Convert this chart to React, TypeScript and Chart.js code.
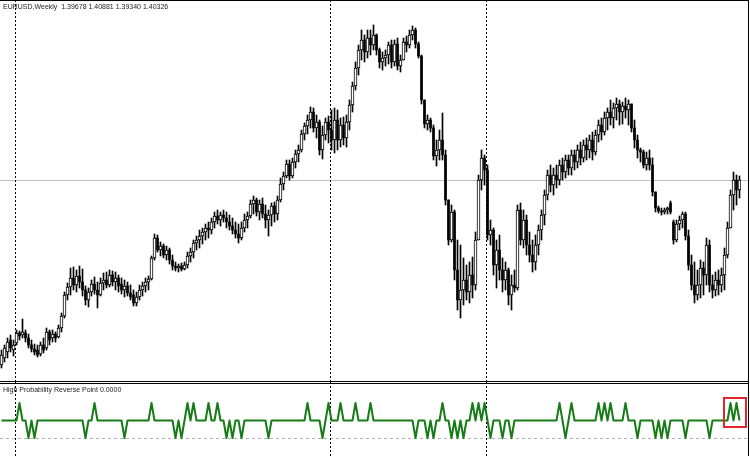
import { useEffect, useRef } from 'react';
import { Chart, registerables } from 'chart.js';

Chart.register(...registerables);

const symbolTitle = 'EURUSD,Weekly';
const lastQuote = ['1.39678', '1.40881', '1.39340', '1.40326'];
const indicatorTitle = 'High Probability Reverse Point';
const indicatorValueText = '0.0000';

const opens = [
  1.218,1.225,1.231,1.243,1.233,1.240,1.250,1.248,1.250,1.245,
  1.238,1.234,1.233,1.229,1.238,1.235,1.251,1.245,1.249,1.246,
  1.255,1.267,1.288,1.296,1.305,1.298,1.307,1.301,1.293,1.283,
  1.291,1.299,1.293,1.288,1.300,1.303,1.298,1.308,1.301,1.305,
  1.299,1.293,1.297,1.290,1.288,1.280,1.286,1.293,1.297,1.301,
  1.304,1.325,1.345,1.333,1.337,1.328,1.333,1.323,1.317,1.315,
  1.317,1.314,1.318,1.327,1.331,1.340,1.343,1.347,1.351,1.355,
  1.353,1.361,1.367,1.363,1.368,1.365,1.361,1.357,1.353,1.349,
  1.345,1.355,1.363,1.367,1.379,1.383,1.371,1.379,1.369,1.363,
  1.368,1.377,1.369,1.383,1.399,1.407,1.419,1.407,1.421,1.429,
  1.433,1.449,1.457,1.463,1.471,1.455,1.461,1.433,1.448,1.461,
  1.453,1.443,1.463,1.443,1.458,1.445,1.461,1.478,1.497,1.515,
  1.533,1.543,1.531,1.545,1.538,1.548,1.533,1.521,1.525,1.528,
  1.538,1.521,1.539,1.517,1.523,1.541,1.538,1.548,1.553,1.539,
  1.527,1.483,1.459,1.463,1.455,1.427,1.433,1.443,1.428,1.383,
  1.343,1.371,1.313,1.283,1.293,1.303,1.291,1.308,1.298,1.343,
  1.403,1.425,1.413,1.348,1.353,1.318,1.333,1.313,1.303,1.313,
  1.288,1.298,1.295,1.373,1.343,1.363,1.338,1.328,1.321,1.338,
  1.353,1.368,1.388,1.408,1.398,1.408,1.403,1.418,1.411,1.423,
  1.415,1.428,1.421,1.433,1.425,1.438,1.433,1.443,1.431,1.448,
  1.458,1.451,1.465,1.471,1.465,1.475,1.479,1.471,1.477,1.473,
  1.479,1.455,1.443,1.433,1.431,1.418,1.425,1.418,1.391,1.375,
  1.372,1.371,1.373,1.380,1.361,1.343,1.359,1.363,1.369,1.347,
  1.318,1.298,1.288,1.298,1.315,1.308,1.338,1.298,1.293,1.303,
  1.298,1.308,1.328,1.355,1.388,1.403,1.393,
];

const highs = [
  1.233,1.238,1.245,1.248,1.243,1.253,1.252,1.264,1.253,1.249,
  1.243,1.239,1.238,1.241,1.245,1.255,1.253,1.253,1.251,1.258,
  1.270,1.291,1.300,1.315,1.316,1.313,1.317,1.314,1.297,1.295,
  1.303,1.306,1.301,1.305,1.310,1.311,1.313,1.312,1.311,1.308,
  1.305,1.303,1.301,1.298,1.293,1.291,1.298,1.301,1.305,1.307,
  1.327,1.349,1.348,1.341,1.339,1.337,1.335,1.328,1.321,1.319,
  1.320,1.321,1.331,1.335,1.343,1.347,1.353,1.355,1.359,1.361,
  1.365,1.371,1.373,1.371,1.373,1.371,1.368,1.365,1.361,1.359,
  1.361,1.369,1.371,1.383,1.387,1.385,1.383,1.385,1.378,1.373,
  1.380,1.381,1.387,1.405,1.411,1.423,1.423,1.425,1.433,1.438,
  1.453,1.460,1.468,1.476,1.475,1.468,1.463,1.457,1.465,1.467,
  1.473,1.475,1.473,1.465,1.466,1.468,1.483,1.501,1.521,1.538,
  1.553,1.548,1.553,1.553,1.558,1.549,1.535,1.531,1.533,1.541,
  1.543,1.543,1.545,1.528,1.545,1.547,1.553,1.557,1.555,1.541,
  1.528,1.483,1.468,1.465,1.458,1.443,1.453,1.470,1.433,1.383,
  1.378,1.373,1.343,1.338,1.325,1.318,1.321,1.326,1.351,1.408,
  1.433,1.428,1.418,1.363,1.355,1.343,1.348,1.325,1.321,1.315,
  1.308,1.313,1.378,1.380,1.373,1.368,1.351,1.343,1.348,1.358,
  1.373,1.393,1.413,1.418,1.415,1.418,1.423,1.425,1.428,1.428,
  1.433,1.433,1.438,1.441,1.443,1.445,1.448,1.451,1.453,1.463,
  1.465,1.471,1.475,1.483,1.480,1.485,1.483,1.481,1.485,1.483,
  1.479,1.463,1.448,1.435,1.433,1.431,1.433,1.425,1.391,1.377,
  1.375,1.375,1.376,1.382,1.363,1.363,1.367,1.371,1.371,1.353,
  1.328,1.321,1.313,1.323,1.321,1.345,1.343,1.308,1.311,1.313,
  1.315,1.335,1.361,1.393,1.411,1.408,1.407,
];

const lows = [
  1.215,1.221,1.225,1.231,1.227,1.238,1.243,1.245,1.241,1.235,
  1.231,1.228,1.226,1.227,1.230,1.233,1.238,1.241,1.241,1.245,
  1.251,1.265,1.283,1.288,1.293,1.291,1.295,1.287,1.278,1.276,
  1.287,1.289,1.275,1.287,1.293,1.295,1.296,1.297,1.293,1.291,
  1.289,1.286,1.287,1.283,1.277,1.277,1.283,1.287,1.291,1.293,
  1.303,1.323,1.331,1.327,1.325,1.323,1.319,1.313,1.312,1.311,
  1.312,1.313,1.315,1.321,1.325,1.333,1.335,1.339,1.343,1.345,
  1.349,1.355,1.359,1.357,1.361,1.355,1.353,1.349,1.345,1.340,
  1.343,1.351,1.355,1.365,1.369,1.367,1.363,1.365,1.355,1.347,
  1.357,1.361,1.363,1.381,1.393,1.405,1.403,1.405,1.415,1.421,
  1.431,1.443,1.449,1.455,1.451,1.445,1.428,1.424,1.443,1.440,
  1.433,1.430,1.433,1.436,1.438,1.436,1.453,1.471,1.493,1.508,
  1.523,1.521,1.525,1.528,1.533,1.528,1.515,1.513,1.517,1.519,
  1.515,1.517,1.513,1.511,1.523,1.531,1.535,1.543,1.535,1.525,
  1.479,1.455,1.453,1.451,1.423,1.417,1.423,1.423,1.378,1.338,
  1.341,1.303,1.273,1.265,1.278,1.283,1.280,1.285,1.293,1.343,
  1.393,1.398,1.343,1.338,1.308,1.295,1.303,1.291,1.293,1.278,
  1.273,1.291,1.293,1.338,1.335,1.328,1.321,1.311,1.313,1.328,
  1.343,1.358,1.383,1.391,1.388,1.395,1.398,1.403,1.405,1.408,
  1.408,1.413,1.415,1.418,1.421,1.423,1.425,1.423,1.428,1.441,
  1.443,1.448,1.453,1.458,1.455,1.463,1.458,1.459,1.465,1.458,
  1.451,1.435,1.425,1.421,1.415,1.413,1.413,1.387,1.371,1.370,
  1.368,1.369,1.369,1.369,1.339,1.341,1.353,1.355,1.343,1.313,
  1.293,1.280,1.283,1.285,1.288,1.298,1.291,1.285,1.287,1.288,
  1.291,1.293,1.325,1.355,1.373,1.378,1.385,
];

const closes = [
  1.228,1.235,1.241,1.235,1.238,1.250,1.247,1.251,1.245,1.238,
  1.234,1.231,1.228,1.238,1.233,1.251,1.243,1.249,1.245,1.255,
  1.267,1.288,1.296,1.305,1.298,1.307,1.301,1.293,1.283,1.291,
  1.299,1.293,1.288,1.300,1.303,1.298,1.308,1.301,1.305,1.297,
  1.293,1.297,1.290,1.286,1.280,1.286,1.293,1.297,1.301,1.304,
  1.325,1.345,1.333,1.337,1.328,1.333,1.323,1.317,1.315,1.317,
  1.314,1.318,1.327,1.331,1.340,1.343,1.347,1.351,1.355,1.353,
  1.361,1.367,1.363,1.368,1.365,1.361,1.357,1.353,1.349,1.345,
  1.355,1.363,1.367,1.379,1.383,1.371,1.379,1.369,1.363,1.368,
  1.377,1.369,1.383,1.399,1.407,1.419,1.407,1.421,1.429,1.433,
  1.449,1.457,1.463,1.471,1.455,1.461,1.433,1.448,1.461,1.453,
  1.443,1.463,1.443,1.458,1.445,1.461,1.478,1.497,1.515,1.533,
  1.543,1.531,1.545,1.538,1.548,1.533,1.521,1.525,1.528,1.538,
  1.521,1.539,1.517,1.523,1.541,1.538,1.548,1.553,1.539,1.527,
  1.483,1.459,1.463,1.455,1.427,1.433,1.443,1.428,1.383,1.343,
  1.371,1.313,1.283,1.293,1.303,1.291,1.308,1.298,1.343,1.403,
  1.425,1.413,1.348,1.353,1.318,1.333,1.313,1.303,1.313,1.288,
  1.298,1.295,1.373,1.343,1.363,1.338,1.328,1.321,1.338,1.353,
  1.368,1.388,1.408,1.398,1.408,1.403,1.418,1.411,1.423,1.415,
  1.428,1.421,1.433,1.425,1.438,1.433,1.443,1.431,1.448,1.458,
  1.451,1.465,1.471,1.465,1.475,1.479,1.471,1.477,1.473,1.479,
  1.455,1.443,1.433,1.431,1.418,1.425,1.418,1.391,1.375,1.372,
  1.371,1.373,1.375,1.371,1.343,1.359,1.363,1.369,1.347,1.318,
  1.298,1.288,1.298,1.315,1.308,1.338,1.298,1.293,1.303,1.298,
  1.308,1.328,1.355,1.388,1.403,1.393,1.403,
];

// High Probability Reverse Point indicator: +1 / 0 / -1 per week
const reversePoints = [
  0,0,0,0,0,0,1,0,0,-1,0,-1,0,0,0,0,0,0,0,0,
  0,0,0,0,0,0,0,0,-1,0,0,1,0,0,0,0,0,0,0,0,
  0,-1,0,0,0,0,0,0,0,0,1,0,0,0,0,0,0,0,-1,0,
  -1,0,1,0,1,0,0,0,0,1,0,0,1,0,0,-1,0,-1,0,0,
  -1,0,0,0,0,0,0,0,0,-1,0,0,0,0,0,0,0,0,0,0,
  0,0,1,0,0,0,0,-1,0,1,0,0,0,1,0,0,0,0,1,0,
  0,0,0,1,0,0,0,0,0,0,0,0,0,0,0,0,0,0,-1,0,
  0,0,-1,0,-1,0,0,1,0,0,-1,0,-1,0,-1,0,0,1,0,1,
  0,1,0,-1,0,0,0,-1,0,0,-1,0,0,0,0,0,0,0,0,0,
  0,0,0,0,0,0,1,0,-1,0,1,0,0,0,0,0,0,0,0,1,
  0,1,0,1,0,0,0,0,1,0,0,0,-1,0,0,0,0,0,-1,0,
  -1,0,-1,0,0,0,0,0,-1,0,0,0,0,0,0,0,-1,0,0,0,
  0,0,0,1,0,1,0,
];

const weeks = closes.map((_, i) => 'W' + (i + 1));
const separatorBars = [5, 110, 162];
const bidPrice = 1.403;
const levelValue = -1;
const highlightBox = { fromBar: 240.5, toBar: 248.5, top: 1.35, bottom: -0.45 };

const WIDTH = 750;
const MAIN_H = 382;
const IND_H = 74;

function drawSeparators(ctx: any, chart: any) {
  const xs = chart.scales.x;
  ctx.save();
  ctx.strokeStyle = '#000';
  ctx.lineWidth = 1;
  ctx.setLineDash([2, 2]);
  for (const b of separatorBars) {
    const x = Math.round(xs.getPixelForValue(b - 0.5)) + 0.5;
    ctx.beginPath();
    ctx.moveTo(x, 0);
    ctx.lineTo(x, chart.height);
    ctx.stroke();
  }
  ctx.restore();
}

export default function App() {
  const mainRef = useRef<HTMLCanvasElement>(null);
  const indRef = useRef<HTMLCanvasElement>(null);

  useEffect(() => {
    const mainDecor = {
      id: 'mainDecor',
      beforeDatasetsDraw(chart: any) {
        const ctx = chart.ctx;
        const y = Math.round(chart.scales.y.getPixelForValue(bidPrice));
        ctx.save();
        ctx.fillStyle = '#c0c0c0';
        ctx.fillRect(0, y, 748, 1);
        ctx.restore();
        drawSeparators(ctx, chart);
      },
      afterDraw(chart: any) {
        const ctx = chart.ctx;
        ctx.save();
        ctx.fillStyle = '#000';
        ctx.fillRect(0, 0, 749, 1);
        ctx.fillRect(0, MAIN_H - 1, 749, 1);
        ctx.fillRect(748, 0, 1, MAIN_H);
        ctx.restore();
      },
    };

    const bull = opens.map((o, i) => (closes[i] >= o ? [o, closes[i]] : null));
    const bear = opens.map((o, i) => (closes[i] < o ? [o, closes[i]] : null));

    const main = new Chart(mainRef.current as any, {
      type: 'bar',
      data: {
        labels: weeks,
        datasets: [
          {
            label: 'bull body',
            data: bull as any,
            backgroundColor: '#ffffff',
            borderColor: '#000000',
            borderWidth: 1,
            borderSkipped: false,
            barThickness: 3,
            grouped: false,
          } as any,
          {
            label: 'bear body',
            data: bear as any,
            backgroundColor: '#000000',
            borderWidth: 0,
            barThickness: 2,
            grouped: false,
          } as any,
          {
            label: 'wick',
            data: lows.map((l, i) => [l, highs[i]]) as any,
            backgroundColor: '#000000',
            borderWidth: 0,
            barThickness: 1,
            grouped: false,
          } as any,
        ],
      },
      options: {
        responsive: false,
        animation: false,
        events: [],
        layout: { padding: { left: 0, right: 9, top: 1, bottom: 1 } },
        plugins: { legend: { display: false }, tooltip: { enabled: false } },
        scales: {
          x: { display: false, offset: true },
          y: { display: false, min: 1.202, max: 1.582 },
        },
      } as any,
      plugins: [mainDecor],
    });

    const indDecor = {
      id: 'indDecor',
      beforeDatasetsDraw(chart: any) {
        const ctx = chart.ctx;
        const y = Math.round(chart.scales.y.getPixelForValue(levelValue)) + 0.5;
        ctx.save();
        ctx.strokeStyle = '#b4b4b4';
        ctx.lineWidth = 1;
        ctx.setLineDash([3, 3]);
        ctx.beginPath();
        ctx.moveTo(0, y);
        ctx.lineTo(748, y);
        ctx.stroke();
        ctx.restore();
        drawSeparators(ctx, chart);
      },
      afterDraw(chart: any) {
        const ctx = chart.ctx;
        const xs = chart.scales.x;
        const ys = chart.scales.y;
        ctx.save();
        ctx.fillStyle = '#000';
        ctx.fillRect(0, 1, 749, 1);
        ctx.fillRect(748, 0, 1, IND_H);
        const x0 = Math.round(xs.getPixelForValue(highlightBox.fromBar));
        const x1 = Math.round(xs.getPixelForValue(highlightBox.toBar));
        const y0 = Math.round(ys.getPixelForValue(highlightBox.top));
        const y1 = Math.round(ys.getPixelForValue(highlightBox.bottom));
        ctx.strokeStyle = '#e3262b';
        ctx.lineWidth = 2;
        ctx.strokeRect(x0 + 1, y0 + 1, x1 - x0 - 2, y1 - y0 - 2);
        ctx.restore();
      },
    };

    const ind = new Chart(indRef.current as any, {
      type: 'line',
      data: {
        labels: weeks,
        datasets: [
          {
            label: indicatorTitle,
            data: reversePoints,
            borderColor: '#167d16',
            borderWidth: 2,
            borderJoinStyle: 'round',
            pointRadius: 0,
            tension: 0,
            fill: false,
          } as any,
        ],
      },
      options: {
        responsive: false,
        animation: false,
        events: [],
        layout: { padding: { left: 0, right: 9, top: 2, bottom: 0 } },
        plugins: { legend: { display: false }, tooltip: { enabled: false } },
        scales: {
          x: { display: false, offset: true },
          y: { display: false, min: -2.029, max: 2.086 },
        },
      } as any,
      plugins: [indDecor],
    });

    return () => {
      main.destroy();
      ind.destroy();
    };
  }, []);

  const textStyle: any = {
    position: 'absolute',
    left: 3,
    font: '7px "Liberation Sans", Arial, sans-serif',
    color: '#222',
    whiteSpace: 'pre',
    lineHeight: '9px',
  };

  return (
    <div style={{ position: 'absolute', left: 0, top: 0, width: WIDTH, height: 456, background: '#fff', overflow: 'hidden' }}>
      <canvas ref={mainRef} width={WIDTH} height={MAIN_H} style={{ position: 'absolute', left: 0, top: 0 }} />
      <canvas ref={indRef} width={WIDTH} height={IND_H} style={{ position: 'absolute', left: 0, top: MAIN_H }} />
      <div style={{ ...textStyle, top: 2 }}>{symbolTitle + '  ' + lastQuote.join(' ')}</div>
      <div style={{ ...textStyle, top: 385 }}>{indicatorTitle + ' ' + indicatorValueText}</div>
    </div>
  );
}
